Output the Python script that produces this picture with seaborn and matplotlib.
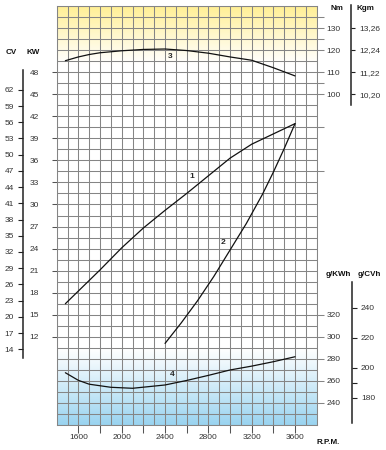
import numpy as np
import seaborn as sns
import matplotlib.pyplot as plt

# Valores
rpm_potencia = [1480, 1800, 2000, 2200, 2400, 2600, 2800, 3000, 3200, 3400, 3600]
potencia_kw = [16.5, 21.1, 24.1, 26.8, 29.2, 31.5, 33.9, 36.3, 38.2, 39.6, 41.0]

rpm_helice = [2400, 2550, 2700, 2850, 3000, 3150, 3300, 3400, 3500, 3600]
potencia_helice = [11.1, 13.9, 16.9, 20.2, 23.8, 27.4, 31.4, 34.4, 37.6, 41.0]

rpm_par = [1480, 1600, 1700, 1800, 2000, 2200, 2400, 2600, 2800, 3000, 3200, 3400, 3600]
par_nm = [115.2, 116.9, 118.0, 118.8, 119.7, 120.3, 120.5, 119.8, 118.6, 116.9, 115.4, 112.0, 108.3]

rpm_consumo = [1480, 1600, 1700, 1900, 2100, 2400, 2600, 2800, 3000, 3200, 3400, 3600]
consumo_gkwh = [267.4, 260.5, 257.0, 254.2, 253.3, 256.3, 260.4, 265.0, 269.9, 273.4, 277.4, 281.9]

rpm_ticks = [1600, 1800, 2000, 2200, 2400, 2600, 2800, 3000, 3200, 3400, 3600]
kw_ticks = [12, 15, 18, 21, 24, 27, 30, 33, 36, 39, 42, 45, 48]
cv_ticks = [14, 17, 20, 23, 26, 29, 32, 35, 38, 41, 44, 47, 50, 53, 56, 59, 62]
nm_ticks = [100, 110, 120, 130]
kgm_ticks = [13.26, 12.24, 11.22, 10.20]
gkwh_ticks = [240, 260, 280, 300, 320]
gcvh_ticks = [180, 200, 220, 240]

KW_A_CV = 1.35962
NM_A_KGM = 9.80665

sns.set_theme(style="white")
plt.rcParams['font.family'] = ['Liberation Sans', 'DejaVu Sans']

W, H = 386, 450
fig = plt.figure(figsize=(W / 100, H / 100), dpi=100)
x0, x1, y0, y1 = 56.7, 316.7, 6, 425
ax = fig.add_axes([x0 / W, 1 - y1 / H, (x1 - x0) / W, (y1 - y0) / H])

GRIS = '#858585'

# Fondos degradados (amarillo arriba, azul abajo)
n = 200
t = np.linspace(0, 1, n)[:, None]
amarillo = np.ones((n, 1, 4))
amarillo[..., 0], amarillo[..., 1], amarillo[..., 2] = 1.0, 0.94, 0.58
amarillo[..., 3] = t ** 1.1
ax.imshow(amarillo, extent=[1400, 3800, 49.0, 57], origin='lower', aspect='auto', zorder=0)
azul = np.ones((n, 1, 4))
azul[..., 0], azul[..., 1], azul[..., 2] = 0.6, 0.83, 0.945
azul[..., 3] = (1 - t) ** 1.1
ax.imshow(azul, extent=[1400, 3800, 0, 10.5], origin='lower', aspect='auto', zorder=0)

ax.set_xlim(1400, 3800)
ax.set_ylim(0, 57)

# Cuadricula
ax.set_xticks(rpm_ticks)
ax.set_xticklabels([str(r) if r % 400 == 0 else '' for r in rpm_ticks])
ax.set_xticks(np.arange(1400, 3801, 100), minor=True)
ax.set_yticks(kw_ticks)
ax.set_yticks(np.arange(0, 57.1, 1.5), minor=True)
ax.grid(which='both', color=GRIS, lw=0.75)
ax.set_axisbelow(True)
for s in ax.spines.values():
    s.set_color(GRIS)
    s.set_linewidth(0.75)
ax.tick_params(axis='x', which='major', direction='out', length=5.8, width=0.75,
               color='#555555', pad=1, labelsize=6, labelcolor='#333333', bottom=True)
ax.tick_params(axis='y', which='major', direction='out', length=3.6, width=0.75,
               color='#555555', pad=9, labelsize=6, labelcolor='#333333', left=True)
ax.tick_params(which='minor', length=0)

# Curvas 1 y 2 (kW)
sns.lineplot(x=rpm_potencia, y=potencia_kw, ax=ax, color='#111111', lw=0.9)
sns.lineplot(x=rpm_helice, y=potencia_helice, ax=ax, color='#111111', lw=0.9)
ax.text(2646, 33.8, '1', fontsize=6, fontweight='bold', ha='center', va='center')
ax.text(2938, 24.8, '2', fontsize=6, fontweight='bold', ha='center', va='center')

# Escala CV
ax_cv = ax.twinx()
for s in ax_cv.spines.values():
    s.set_visible(False)
ax_cv.set_ylim(0, 57 * KW_A_CV)
ax_cv.yaxis.set_ticks_position('left')
ax_cv.spines['left'].set_visible(True)
ax_cv.spines['left'].set_position(('axes', (23.3 - x0) / (x1 - x0)))
ax_cv.spines['left'].set_bounds(12.4, 65.7)
ax_cv.spines['left'].set_color('#222222')
ax_cv.spines['left'].set_linewidth(1.1)
ax_cv.set_yticks(cv_ticks)
ax_cv.tick_params(axis='y', direction='out', length=3.6, width=0.8, color='#222222',
                  pad=3.2, labelsize=6, labelcolor='#333333')

# Par (Nm) curva 3
ax_nm = ax.twinx()
for s in ax_nm.spines.values():
    s.set_visible(False)
ax_nm.set_ylim(-50, 140)
sns.lineplot(x=rpm_par, y=par_nm, ax=ax_nm, color='#111111', lw=0.9)
ax_nm.text(2447, 117.3, '3', fontsize=6, fontweight='bold', ha='center', va='center')
ax_nm.set_yticks(nm_ticks)
ax_nm.set_yticks([135, 125, 105, 85, 65], minor=True)
ax_nm.tick_params(axis='y', which='both', direction='out', length=4.7, width=0.75,
                  color=GRIS, pad=2.4, labelsize=6, labelcolor='#333333')

# Escala Kgm
ax_kgm = ax.twinx()
for s in ax_kgm.spines.values():
    s.set_visible(False)
ax_kgm.set_ylim(-50 / NM_A_KGM, 140 / NM_A_KGM)
ax_kgm.spines['right'].set_visible(True)
ax_kgm.spines['right'].set_position(('axes', (351 - x0) / (x1 - x0)))
ax_kgm.spines['right'].set_bounds(95.1 / NM_A_KGM, 140.5 / NM_A_KGM)
ax_kgm.spines['right'].set_color('#222222')
ax_kgm.spines['right'].set_linewidth(1.1)
ax_kgm.set_yticks(kgm_ticks)
ax_kgm.set_yticklabels([f'{v:.2f}'.replace('.', ',') for v in kgm_ticks])
ax_kgm.tick_params(axis='y', direction='out', length=3.2, width=0.8, color='#222222',
                   pad=3, labelsize=6, labelcolor='#333333')

# Consumo (g/kWh) curva 4
ax_g = ax.twinx()
for s in ax_g.spines.values():
    s.set_visible(False)
ax_g.set_ylim(220, 600)
sns.lineplot(x=rpm_consumo, y=consumo_gkwh, ax=ax_g, color='#111111', lw=0.9)
ax_g.text(2462, 265.5, '4', fontsize=6, fontweight='bold', ha='center', va='center')
ax_g.set_yticks(gkwh_ticks)
ax_g.tick_params(axis='y', direction='out', length=4.7, width=0.75, color=GRIS,
                 pad=2.4, labelsize=6, labelcolor='#333333')

# Escala g/CVh
ax_gcv = ax.twinx()
for s in ax_gcv.spines.values():
    s.set_visible(False)
ax_gcv.set_ylim(220 / KW_A_CV, 600 / KW_A_CV)
ax_gcv.spines['right'].set_visible(True)
ax_gcv.spines['right'].set_position(('axes', (351.7 - x0) / (x1 - x0)))
ax_gcv.spines['right'].set_bounds(163.1, 257.4)
ax_gcv.spines['right'].set_color('#222222')
ax_gcv.spines['right'].set_linewidth(1.1)
ax_gcv.set_yticks(gcvh_ticks)
ax_gcv.set_yticks([190], minor=True)
ax_gcv.tick_params(axis='y', which='both', direction='out', length=3.6, width=0.8,
                   color='#222222', pad=3, labelsize=6, labelcolor='#333333')

# Titulos de las escalas
for txt, px, py in [('CV', 11, 53), ('KW', 33, 53), ('Nm', 336.7, 9), ('Kgm', 365, 9),
                    ('g/KWh', 338, 275), ('g/CVh', 369.5, 275), ('R.P.M.', 328, 443)]:
    fig.text(px / W, 1 - py / H, txt, fontsize=5.8, fontweight='bold',
             ha='center', va='center', color='#111111')

plt.savefig('out.png', dpi=100)
